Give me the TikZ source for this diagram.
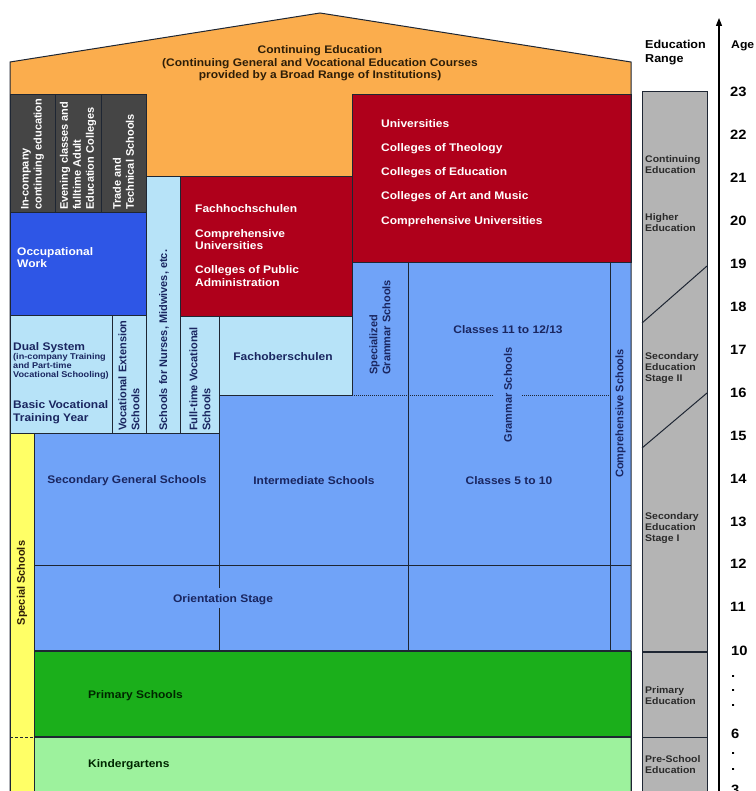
\documentclass[tikz,border=0pt]{standalone}
\usepackage{fontspec}
\setmainfont{Liberation Sans}[FakeStretch=1.09]
\newfontfamily\rotfont{Liberation Sans}
\usetikzlibrary{arrows.meta}
\definecolor{cOrange}{HTML}{FBAD4D}
\definecolor{cDark}{HTML}{454545}
\definecolor{cRed}{HTML}{AF001B}
\definecolor{cOcc}{HTML}{2E56E6}
\definecolor{cLight}{HTML}{B7E3F8}
\definecolor{cMid}{HTML}{70A3F8}
\definecolor{cYellow}{HTML}{FFFF66}
\definecolor{cGreen}{HTML}{1BAF1B}
\definecolor{cLGreen}{HTML}{9DF29D}
\definecolor{cBar}{HTML}{B4B4B4}
\definecolor{cLine}{HTML}{1E2633}
\definecolor{cNavy}{HTML}{1A2660}
\definecolor{cTitle}{HTML}{2E1E08}
\definecolor{cBarText}{HTML}{2A2A2A}
\begin{document}
\begin{tikzpicture}[x=1pt,y=-1pt,
  region/.style={draw=cLine,line width=1pt},
  hlab/.style={font=\bfseries\fontsize{11}{12.5}\selectfont,inner sep=0pt,align=left},
  clab/.style={font=\bfseries\fontsize{11}{12.5}\selectfont,inner sep=0pt,align=center},
  slab/.style={font=\bfseries\fontsize{8.4}{9.2}\selectfont,inner sep=0pt,align=left},
  rlab/.style={font=\rotfont\bfseries\fontsize{11}{13}\selectfont,rotate=90,inner sep=0pt,align=left},
  barlab/.style={font=\bfseries\fontsize{9.6}{11}\selectfont,inner sep=0pt,align=left,text=cBarText,anchor=west},
  agelab/.style={font=\bfseries\fontsize{13.5}{14}\selectfont,inner sep=0pt,anchor=west},
  dotlab/.style={font=\bfseries\fontsize{13.5}{14}\selectfont,inner sep=0pt,anchor=west}]
\useasboundingbox (0,0) rectangle (755,791);
% house background
\fill[cOrange] (10,62) -- (320,13) -- (631,62) -- (631,263) -- (10,263) -- cycle;
% medium blue area (drawn first, covered by the other boxes)
\fill[cMid] (34,263) rectangle (631,651);
% dark gray boxes
\filldraw[region,fill=cDark] (10,95) rectangle (55,213);
\filldraw[region,fill=cDark] (55,95) rectangle (101,213);
\filldraw[region,fill=cDark] (101,95) rectangle (146,213);
% red boxes
\filldraw[region,fill=cRed] (352,95) rectangle (631,263);
\filldraw[region,fill=cRed] (180,177) rectangle (352,316);
% occupational work
\filldraw[region,fill=cOcc] (10,213) rectangle (146,315);
% light blue boxes
\filldraw[region,fill=cLight] (146,177) rectangle (180,433);
\filldraw[region,fill=cLight] (10,315) rectangle (112,433);
\filldraw[region,fill=cLight] (112,315) rectangle (146,433);
\filldraw[region,fill=cLight] (180,316) rectangle (219,433);
\filldraw[region,fill=cLight] (219,316) rectangle (352,395);
% lines of the blue area
\draw[region] (352,263) -- (631,263);
\draw[region] (352,263) -- (352,395);
\draw[region] (408,263) -- (408,651);
\draw[region] (610,263) -- (610,651);
\draw[region] (219,395) -- (219,588);
\draw[region] (219,608) -- (219,651);
\draw[region] (34,565) -- (631,565);
\draw[cLine,line width=1pt,densely dotted] (352,395) -- (493,395);
\draw[cLine,line width=1pt,densely dotted] (522,395) -- (610,395);
% special schools
\filldraw[region,fill=cYellow] (10,433) rectangle (34,795);
\draw[cLine,line width=0.8pt,densely dashed] (10,737) -- (34,737);
% primary and kindergarten
\filldraw[region,fill=cGreen] (34,651) rectangle (631,737);
\filldraw[region,fill=cLGreen] (34,737) rectangle (631,795);
\draw[cLine,line width=1.8pt] (34,651) -- (631,651);
\draw[cLine,line width=1.5pt] (34,737) -- (631,737);
% house outline
\draw[region] (10,795) -- (10,62) -- (320,13) -- (631,62) -- (631,795);

% ---- texts in the house ----
\node[clab,text=cTitle] (title) at (320,63.5) {Continuing Education\\(Continuing General and Vocational Education Courses\\provided by a Broad Range of Institutions)};
\node[rlab,text=white,anchor=west] (incomp) at (32.5,210) {In-company\\continuing education};
\node[rlab,text=white,anchor=west] (evening) at (78,210) {Evening classes and\\fulltime Adult\\Education Colleges};
\node[rlab,text=white,anchor=west] (trade) at (123.5,210) {Trade and\\Technical Schools};
\node[hlab,text=white,anchor=west] (occ) at (17,257.5) {Occupational\\Work};
\node[hlab,text=cNavy,anchor=west] (dual) at (13,348) {Dual System};
\node[slab,text=cNavy,anchor=west] (dualsub) at (13,366.5) {(in-company Training\\and Part-time\\Vocational Schooling)};
\node[hlab,text=cNavy,anchor=west] (basic) at (13,412) {Basic Vocational\\Training Year};
\node[rlab,text=cNavy,anchor=west] (vocext) at (129,431) {Vocational Extension\\Schools};
\node[rlab,text=cNavy,anchor=west] (nurses) at (164,431) {Schools for Nurses, Midwives, etc.};
\node[rlab,text=cNavy,anchor=west] (fulltime) at (200,431) {Full-time Vocational\\Schools};
\node[clab,text=cNavy] (fos) at (283,357) {Fachoberschulen};
\node[hlab,text=white,anchor=west] (fh) at (195,209) {Fachhochschulen};
\node[hlab,text=white,anchor=west] (compuni1) at (195,239.5) {Comprehensive\\Universities};
\node[hlab,text=white,anchor=west] (cpa) at (195,276) {Colleges of Public\\Administration};
\node[hlab,text=white,anchor=west] (uni) at (381,124) {Universities};
\node[hlab,text=white,anchor=west] (theo) at (381,149) {Colleges of Theology};
\node[hlab,text=white,anchor=west] (coled) at (381,173) {Colleges of Education};
\node[hlab,text=white,anchor=west] (art) at (381,197) {Colleges of Art and Music};
\node[hlab,text=white,anchor=west] (compuni2) at (381,222) {Comprehensive Universities};
\node[rlab,text=cNavy,anchor=west] (specgram) at (380,375) {Specialized\\Grammar Schools};
\node[clab,text=cNavy] (cl1113) at (508,330) {Classes 11 to 12/13};
\node[rlab,text=cNavy] (gram) at (508,395) {Grammar Schools};
\node[rlab,text=cNavy] (comp) at (620.5,413.5) {Comprehensive Schools};
\node[clab,text=cNavy] (secgen) at (127,481) {Secondary General Schools};
\node[clab,text=cNavy] (inter) at (314,481) {Intermediate Schools};
\node[clab,text=cNavy] (cl510) at (509,481) {Classes 5 to 10};
\node[clab,text=cNavy] (orient) at (223,600) {Orientation Stage};
\node[rlab,text=cTitle] (special) at (22,583) {Special Schools};
\node[hlab,text=black!85!green,anchor=west] (primary) at (88,696) {Primary Schools};
\node[hlab,text=black!85!green,anchor=west] (kinder) at (88,765) {Kindergartens};

% ---- education range bar ----
\node[font=\bfseries\fontsize{11.5}{13.5}\selectfont,inner sep=0pt,align=left,anchor=west] (erange) at (645,52.5) {Education\\Range};
\filldraw[region,fill=cBar] (642,92) rectangle (707,795);
\draw[cLine,line width=1pt] (642,323) -- (707,266);
\draw[cLine,line width=1pt] (642,448) -- (707,393);
\draw[cLine,line width=1.8pt] (642,652) -- (707,652);
\draw[cLine,line width=1pt] (642,737) -- (707,737);
\node[barlab] (bcont) at (645,164.5) {Continuing\\Education};
\node[barlab] (bhigh) at (645,222.5) {Higher\\Education};
\node[barlab] (bsec2) at (645,368) {Secondary\\Education\\Stage II};
\node[barlab] (bsec1) at (645,528) {Secondary\\Education\\Stage I};
\node[barlab] (bprim) at (645,695.5) {Primary\\Education};
\node[barlab] (bpre) at (645,765) {Pre-School\\Education};

% ---- age axis ----
\coordinate (axisb) at (719,795);
\coordinate (axist) at (719,18);
\draw[line width=1.2pt,-{Triangle[length=8pt,width=6pt]}] (axisb) -- (axist);
\node[font=\bfseries\fontsize{11.2}{13.5}\selectfont,inner sep=0pt,anchor=west] (age) at (731,46) {Age};
\node[agelab] (a23) at (730,92) {23};
\node[agelab] (a22) at (730,135) {22};
\node[agelab] (a21) at (730,178) {21};
\node[agelab] (a20) at (730,221) {20};
\node[agelab] (a19) at (730,264) {19};
\node[agelab] (a18) at (730,307) {18};
\node[agelab] (a17) at (730,350) {17};
\node[agelab] (a16) at (730,393) {16};
\node[agelab] (a15) at (730,436) {15};
\node[agelab] (a14) at (730,479) {14};
\node[agelab] (a13) at (730,522) {13};
\node[agelab] (a12) at (730,564) {12};
\node[agelab] (a11) at (730,607) {11};
\node[agelab] (a10) at (731,651) {10};
\node[dotlab] (d1) at (731,676) {.};
\node[dotlab] (d2) at (731,690) {.};
\node[dotlab] (d3) at (731,705) {.};
\node[agelab] (a6) at (731,734) {6};
\node[dotlab] (d4) at (731,753) {.};
\node[dotlab] (d5) at (731,769) {.};
\node[agelab] (a3) at (731,790) {3};
\end{tikzpicture}
\end{document}
